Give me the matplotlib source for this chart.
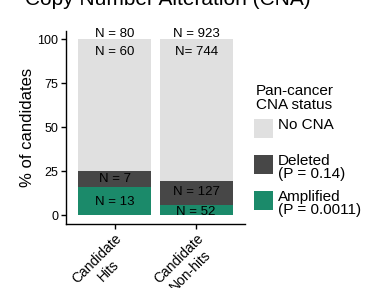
import numpy as np
import matplotlib.pyplot as plt
from matplotlib.patches import Rectangle

plt.rcParams['font.family'] = ['Liberation Sans', 'DejaVu Sans']

# data
groups = ["Candidate\nHits", "Candidate\nNon-hits"]
totals = [80, 923]
amplified = [13, 52]
deleted = [7, 127]
no_cna = [60, 744]
status_names = ["No CNA", "Deleted\n(P = 0.14)", "Amplified\n(P = 0.0011)"]
colors = ["#E0E0E0", "#474747", "#1B8A6A"]

tot = np.array(totals, dtype=float)
amp_pct = np.array(amplified) / tot * 100
del_pct = np.array(deleted) / tot * 100
no_pct = np.array(no_cna) / tot * 100

W, H = 368, 288
fig = plt.figure(figsize=(W / 100, H / 100), dpi=100)
ax = fig.add_axes([66 / W, 1 - 224 / H, 179 / W, 193.5 / H])

x = np.arange(1, len(groups) + 1)
ax.bar(x, amp_pct, width=0.9, color=colors[2])
ax.bar(x, del_pct, width=0.9, bottom=amp_pct, color=colors[1])
ax.bar(x, no_pct, width=0.9, bottom=amp_pct + del_pct, color=colors[0])

# N labels
top_lab = ["N = %d" % n for n in totals]
no_lab = ["N = 60", "N= 744"]
for i in range(len(groups)):
    ax.text(x[i], 103.0, top_lab[i], ha='center', va='center', fontsize=9.5)
    ax.text(x[i], 92.8, no_lab[i], ha='center', va='center', fontsize=9.5)
ax.text(x[0], 20.6, "N = %d" % deleted[0], ha='center', va='center', fontsize=9.5)
ax.text(x[0], 7.6, "N = %d" % amplified[0], ha='center', va='center', fontsize=9.5)
ax.text(x[1], 13.2, "N = %d" % deleted[1], ha='center', va='center', fontsize=9.5)
ax.text(x[1], 1.9, "N = %d" % amplified[1], ha='center', va='center', fontsize=9.5)

ax.set_xlim(0.4, 2.6)
ax.set_ylim(-5, 105)
ax.set_yticks([0, 25, 50, 75, 100])
ax.set_xticks(x)
ax.set_xticklabels(groups, rotation=45, ha='right', va='top',
                   rotation_mode='anchor', multialignment='center', fontsize=10)
ax.tick_params(axis='y', labelsize=9, length=3.5, width=1, pad=2)
ax.tick_params(axis='x', length=3.5, width=1, pad=2)
for s in ['top', 'right']:
    ax.spines[s].set_visible(False)
for s in ['left', 'bottom']:
    ax.spines[s].set_linewidth(1)
ax.set_ylabel("% of candidates", fontsize=12)
ax.yaxis.set_label_coords(-0.175, 0.5)

fig.text(168 / W, 1 - 5 / H, "Copy Number Alteration (CNA)",
         ha='center', va='baseline', fontsize=15)

# legend
fig.text(256 / W, 1 - 84 / H, "Pan-cancer\nCNA status", ha='left', va='top',
         fontsize=11, linespacing=1.0)
key_tops = [119, 155, 191]
for name, c, t in zip(status_names, colors, key_tops):
    fig.add_artist(Rectangle((254 / W, 1 - (t + 19) / H), 19 / W, 19 / H,
                             transform=fig.transFigure, color=c, lw=0))
    fig.text(278 / W, 1 - (t - 1) / H, name, ha='left', va='top',
             fontsize=11, linespacing=0.95)

fig.savefig("out.png", dpi=100)
